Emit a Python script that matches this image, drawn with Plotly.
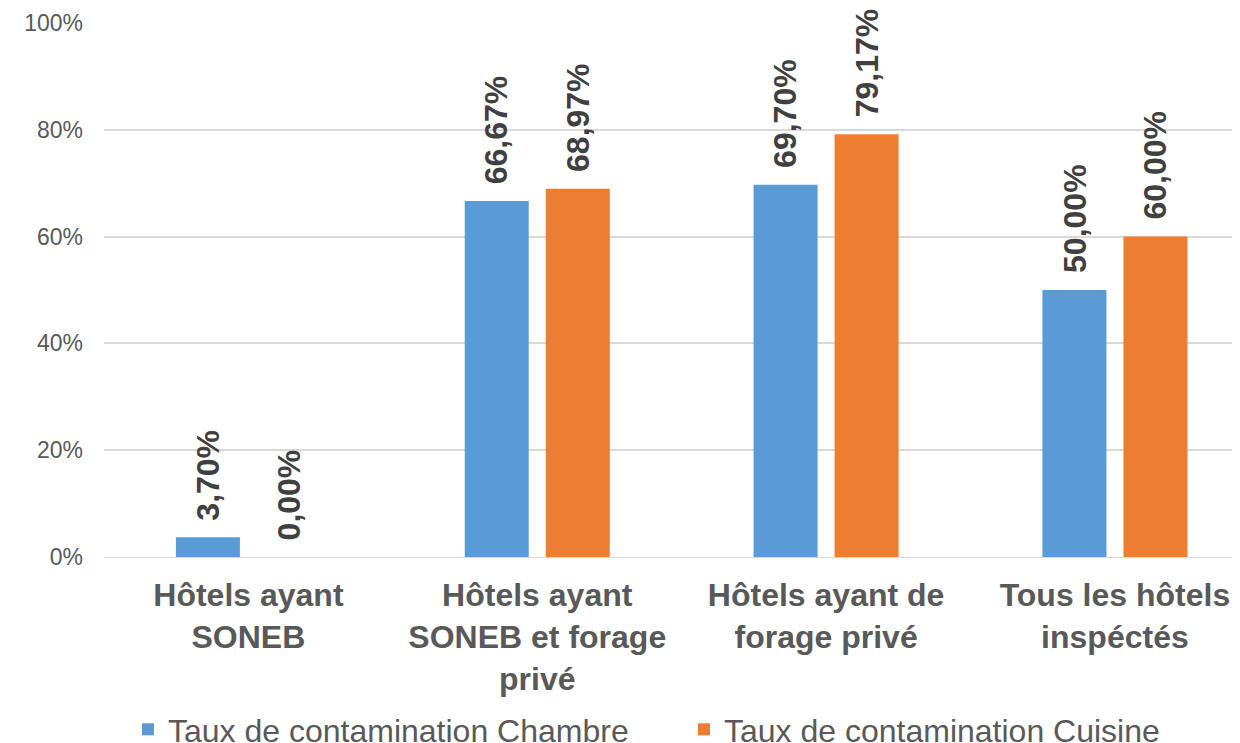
import plotly.graph_objects as go

categories = ["Hôtels ayant<br>SONEB", "Hôtels ayant<br>SONEB et forage<br>privé",
              "Hôtels ayant de<br>forage privé", "Tous les hôtels<br>inspéctés"]
chambre = [0.0370, 0.6667, 0.6970, 0.5000]
cuisine = [0.0000, 0.6897, 0.7917, 0.6000]
series_names = ["Taux de contamination Chambre", "Taux de contamination Cuisine"]
colors = ["#5B9BD5", "#ED7D31"]

FONT = "Liberation Sans, Arial, sans-serif"

def fmt(v):
    return f"{v*100:.2f}%".replace(".", ",")

fig = go.Figure()
for name, vals, col, lw in zip(series_names, [chambre, cuisine], colors, [511, 460]):
    fig.add_trace(go.Bar(x=categories, y=vals, name=name, marker_color=col,
                         marker_line_width=0, legendwidth=lw))

annotations = []
for vals, shift in zip([chambre, cuisine], [-40.5, 40.5]):
    for c, v in zip(categories, vals):
        annotations.append(dict(x=c, y=v, xref="x", yref="y", text=f"<b>{fmt(v)}</b>",
                                showarrow=False, textangle=-90, xshift=shift, yshift=15,
                                yanchor="bottom", xanchor="center",
                                font=dict(family=FONT, size=32, color="#404040")))

fig.update_layout(
    width=1232, height=735,
    margin=dict(l=96, r=0, t=15, b=186, autoexpand=False),
    paper_bgcolor="white", plot_bgcolor="white",
    barmode="group", bargap=0.439, bargroupgap=0.21,
    annotations=annotations,
    font=dict(family=FONT, color="#595959"),
    legend=dict(orientation="h", xref="container", yref="container",
                x=0.0974, xanchor="left", y=0.0184, yanchor="middle",
                font=dict(family=FONT, size=32, color="#595959"),
                traceorder="normal"),
    xaxis=dict(range=[-0.5, 3.433], showgrid=False, showline=True, linecolor="#d9d9d9",
               linewidth=1, ticks="", ticklabelstandoff=10, automargin=False,
               tickfont=dict(family=FONT, size=32, color="#595959", weight="bold")),
    yaxis=dict(range=[0, 1], dtick=0.2, tickformat=".0%", showgrid=True, gridcolor="#d9d9d9",
               gridwidth=1.5, zeroline=False, showline=False, ticks="", ticklabelstandoff=20,
               automargin=False,
               tickfont=dict(family=FONT, size=23, color="#595959")),
)
fig.update_traces(cliponaxis=False)
fig.write_html("out.html")
